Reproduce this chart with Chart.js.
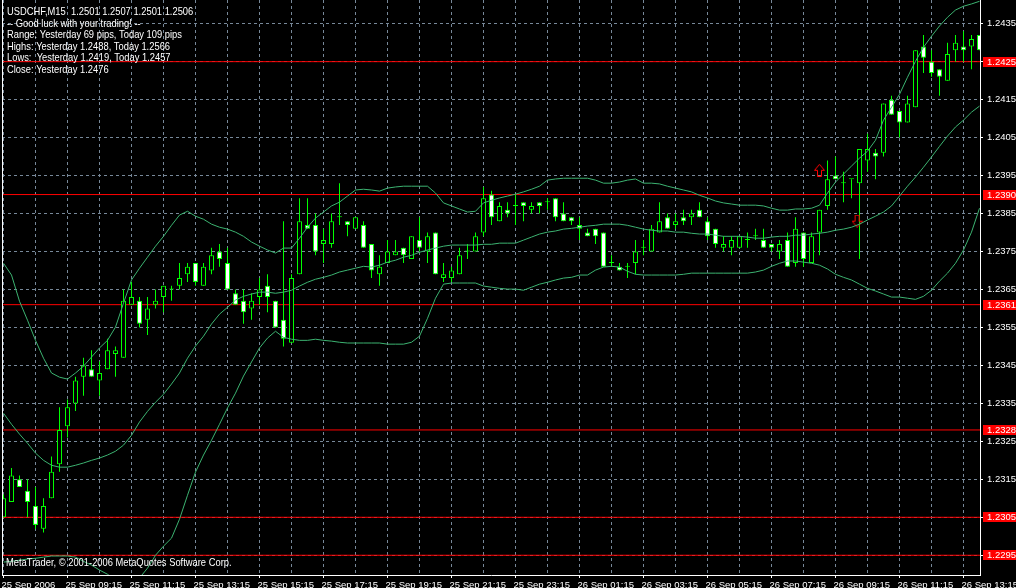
<!DOCTYPE html>
<html>
<head>
<meta charset="utf-8">
<title>USDCHF,M15</title>
<script src="https://cdn.jsdelivr.net/npm/chart.js"></script>
<style>
    html, body { margin: 0; padding: 0; background: #000; overflow: hidden; }
    #wrap { width: 1016px; height: 588px; }
</style>
</head>
<body>
<div id="wrap"><canvas id="chart" width="1016" height="588"></canvas></div>
<script>
// USDCHF M15, one value per bar, 25 Sep 07:15 -> 26 Sep 13:45
const opens = [
    1.2305, 1.2309, 1.2315, 1.2312, 1.2308, 1.2302, 1.2310, 1.2319, 1.2329, 1.2335,
    1.2342, 1.2344, 1.2341, 1.2344, 1.2348, 1.2347, 1.2361, 1.2362, 1.2357, 1.2361,
    1.2363, 1.2365, 1.2366, 1.2369, 1.2372, 1.2366, 1.2370, 1.2375, 1.2372, 1.2364,
    1.2362, 1.2360, 1.2363, 1.2366, 1.2362, 1.2357, 1.2351, 1.2369, 1.2382, 1.2382,
    1.2377, 1.2377, 1.2384, 1.2383, 1.2381, 1.2382, 1.2377, 1.2369, 1.2372, 1.2374,
    1.2376, 1.2373, 1.2378, 1.2375, 1.2380, 1.2368, 1.2368, 1.2369, 1.2375, 1.2375,
    1.2380, 1.2390, 1.2383, 1.2386, 1.2387, 1.2388, 1.2386, 1.2388, 1.2388, 1.2389,
    1.2385, 1.2384, 1.2382, 1.2380, 1.2381, 1.2380, 1.2372, 1.2371, 1.2371, 1.2372,
    1.2376, 1.2375, 1.2380, 1.2384, 1.2382, 1.2384, 1.2384, 1.2386, 1.2383, 1.2381,
    1.2376, 1.2376, 1.2376, 1.2378, 1.2379, 1.2378, 1.2377, 1.2375, 1.2378, 1.2372,
    1.2380, 1.2372, 1.2380, 1.2387, 1.2395, 1.2393, 1.2394, 1.2393, 1.2399, 1.2401,
    1.2401, 1.2415, 1.2412, 1.2409, 1.2413, 1.2429, 1.2425, 1.2423, 1.2420, 1.2428,
    1.2429, 1.2429, 1.2432
];
const highs = [
    1.2311, 1.2318, 1.2316, 1.2315, 1.2313, 1.2310, 1.2321, 1.2334, 1.2336, 1.2342,
    1.2347, 1.2349, 1.2346, 1.2352, 1.2350, 1.2365, 1.2367, 1.2363, 1.2363, 1.2365,
    1.2366, 1.2366, 1.2372, 1.2372, 1.2372, 1.2372, 1.2376, 1.2377, 1.2376, 1.2365,
    1.2365, 1.2364, 1.2368, 1.2369, 1.2362, 1.2383, 1.2369, 1.2389, 1.2389, 1.2385,
    1.2381, 1.2385, 1.2393, 1.2383, 1.2384, 1.2383, 1.2377, 1.2374, 1.2378, 1.2378,
    1.2376, 1.2379, 1.2384, 1.2380, 1.2380, 1.2372, 1.2371, 1.2376, 1.2377, 1.2380,
    1.2392, 1.2391, 1.2388, 1.2388, 1.2390, 1.2388, 1.2388, 1.2388, 1.2389, 1.2389,
    1.2388, 1.2384, 1.2384, 1.2381, 1.2381, 1.2380, 1.2374, 1.2372, 1.2372, 1.2378,
    1.2378, 1.2382, 1.2388, 1.2385, 1.2385, 1.2386, 1.2386, 1.2388, 1.2384, 1.2381,
    1.2379, 1.2379, 1.2379, 1.2380, 1.2381, 1.2381, 1.2377, 1.2378, 1.2380, 1.2384,
    1.2380, 1.2380, 1.2386, 1.2399, 1.2400, 1.2396, 1.2394, 1.2402, 1.2406, 1.2402,
    1.2414, 1.2416, 1.2412, 1.2416, 1.2428, 1.2432, 1.2428, 1.2423, 1.2430, 1.2432,
    1.2433, 1.2432, 1.2432
];
const lows = [
    1.2305, 1.2309, 1.2313, 1.2305, 1.2302, 1.2301, 1.2310, 1.2317, 1.2326, 1.2333,
    1.2337, 1.2342, 1.2337, 1.2344, 1.2342, 1.2347, 1.2361, 1.2355, 1.2353, 1.2360,
    1.2359, 1.2362, 1.2365, 1.2367, 1.2366, 1.2366, 1.2369, 1.2371, 1.2365, 1.2361,
    1.2356, 1.2357, 1.2361, 1.2359, 1.2355, 1.2350, 1.2351, 1.2369, 1.2381, 1.2374,
    1.2372, 1.2376, 1.2382, 1.2379, 1.2381, 1.2376, 1.2368, 1.2366, 1.2372, 1.2374,
    1.2372, 1.2373, 1.2375, 1.2372, 1.2369, 1.2367, 1.2367, 1.2369, 1.2373, 1.2375,
    1.2379, 1.2382, 1.2383, 1.2384, 1.2382, 1.2383, 1.2385, 1.2385, 1.2386, 1.2383,
    1.2383, 1.2382, 1.2378, 1.2379, 1.2377, 1.2371, 1.2371, 1.2370, 1.2368, 1.2369,
    1.2374, 1.2375, 1.2380, 1.2381, 1.2381, 1.2382, 1.2382, 1.2384, 1.2378, 1.2376,
    1.2375, 1.2374, 1.2376, 1.2376, 1.2378, 1.2376, 1.2375, 1.2373, 1.2371, 1.2371,
    1.2371, 1.2372, 1.2374, 1.2386, 1.2394, 1.2388, 1.2389, 1.2373, 1.2396, 1.2394,
    1.2400, 1.2411, 1.2405, 1.2409, 1.2413, 1.2422, 1.2421, 1.2416, 1.2420, 1.2425,
    1.2425, 1.2423, 1.2428
];
const closes = [
    1.2310, 1.2316, 1.2313, 1.2309, 1.2303, 1.2308, 1.2317, 1.2328, 1.2334, 1.2341,
    1.2345, 1.2342, 1.2343, 1.2349, 1.2349, 1.2362, 1.2363, 1.2356, 1.2360, 1.2362,
    1.2366, 1.2365, 1.2368, 1.2371, 1.2367, 1.2371, 1.2374, 1.2373, 1.2365, 1.2361,
    1.2359, 1.2362, 1.2365, 1.2363, 1.2355, 1.2352, 1.2368, 1.2383, 1.2381, 1.2375,
    1.2378, 1.2383, 1.2384, 1.2382, 1.2384, 1.2376, 1.2370, 1.2371, 1.2375, 1.2375,
    1.2374, 1.2379, 1.2376, 1.2379, 1.2369, 1.2369, 1.2370, 1.2374, 1.2375, 1.2379,
    1.2389, 1.2384, 1.2387, 1.2385, 1.2387, 1.2387, 1.2387, 1.2387, 1.2388, 1.2384,
    1.2383, 1.2383, 1.2381, 1.2379, 1.2379, 1.2371, 1.2372, 1.2370, 1.2371, 1.2375,
    1.2376, 1.2381, 1.2383, 1.2381, 1.2383, 1.2383, 1.2385, 1.2384, 1.2379, 1.2377,
    1.2377, 1.2378, 1.2379, 1.2378, 1.2379, 1.2376, 1.2376, 1.2377, 1.2371, 1.2381,
    1.2373, 1.2379, 1.2386, 1.2394, 1.2394, 1.2393, 1.2394, 1.2402, 1.2402, 1.2400,
    1.2414, 1.2411, 1.2409, 1.2414, 1.2428, 1.2426, 1.2422, 1.2421, 1.2427, 1.2430,
    1.2428, 1.2431, 1.2428
];

// Bollinger Bands (20)
const bbUpper = [
    1.23719, 1.23688, 1.23619, 1.23569, 1.23516, 1.23469, 1.23430, 1.23419, 1.23414, 1.23430,
    1.23448, 1.23472, 1.23496, 1.23516, 1.23551, 1.23614, 1.23675, 1.23706, 1.23735, 1.23764,
    1.23790, 1.23819, 1.23846, 1.23856, 1.23843, 1.23835, 1.23822, 1.23814, 1.23809, 1.23801,
    1.23790, 1.23775, 1.23764, 1.23754, 1.23746, 1.23759, 1.23759, 1.23785, 1.23814, 1.23838,
    1.23854, 1.23870, 1.23880, 1.23896, 1.23912, 1.23914, 1.23912, 1.23909, 1.23917, 1.23920,
    1.23922, 1.23922, 1.23922, 1.23922, 1.23904, 1.23878, 1.23870, 1.23862, 1.23854, 1.23856,
    1.23878, 1.23885, 1.23891, 1.23896, 1.23901, 1.23907, 1.23914, 1.23922, 1.23938, 1.23941,
    1.23943, 1.23943, 1.23943, 1.23943, 1.23938, 1.23930, 1.23930, 1.23933, 1.23938, 1.23941,
    1.23930, 1.23930, 1.23928, 1.23922, 1.23917, 1.23912, 1.23907, 1.23898, 1.23891, 1.23883,
    1.23878, 1.23875, 1.23872, 1.23872, 1.23872, 1.23870, 1.23864, 1.23859, 1.23859, 1.23862,
    1.23862, 1.23864, 1.23872, 1.23904, 1.23933, 1.23954, 1.23975, 1.23996, 1.24014, 1.24043,
    1.24096, 1.24130, 1.24164, 1.24209, 1.24251, 1.24288, 1.24317, 1.24344, 1.24367, 1.24386,
    1.24396, 1.24402, 1.24409
];
const bbMiddle = [
    1.23324, 1.23295, 1.23269, 1.23245, 1.23219, 1.23200, 1.23187, 1.23182, 1.23182, 1.23187,
    1.23193, 1.23200, 1.23206, 1.23214, 1.23224, 1.23240, 1.23266, 1.23301, 1.23329, 1.23353,
    1.23374, 1.23401, 1.23430, 1.23469, 1.23501, 1.23527, 1.23559, 1.23585, 1.23603, 1.23622,
    1.23632, 1.23638, 1.23643, 1.23643, 1.23640, 1.23643, 1.23648, 1.23659, 1.23669, 1.23677,
    1.23682, 1.23688, 1.23696, 1.23701, 1.23706, 1.23711, 1.23709, 1.23714, 1.23722, 1.23727,
    1.23735, 1.23740, 1.23748, 1.23754, 1.23759, 1.23764, 1.23767, 1.23767, 1.23767, 1.23767,
    1.23769, 1.23769, 1.23772, 1.23772, 1.23772, 1.23780, 1.23788, 1.23796, 1.23801, 1.23804,
    1.23809, 1.23811, 1.23814, 1.23817, 1.23819, 1.23822, 1.23822, 1.23822, 1.23819, 1.23814,
    1.23809, 1.23806, 1.23804, 1.23804, 1.23801, 1.23801, 1.23798, 1.23796, 1.23796, 1.23793,
    1.23790, 1.23790, 1.23790, 1.23788, 1.23785, 1.23785, 1.23788, 1.23790, 1.23790, 1.23793,
    1.23793, 1.23796, 1.23798, 1.23801, 1.23806, 1.23809, 1.23814, 1.23822, 1.23833, 1.23843,
    1.23854, 1.23870, 1.23896, 1.23922, 1.23946, 1.23972, 1.23999, 1.24027, 1.24054, 1.24078,
    1.24096, 1.24117, 1.24133
];
const bbLower = [
    1.22932, 1.22934, 1.22937, 1.22940, 1.22942, 1.22945, 1.22948, 1.22948, 1.22948, 1.22945,
    1.22934, 1.22924, 1.22911, 1.22900, 1.22884, 1.22871, 1.22871, 1.22890, 1.22916, 1.22950,
    1.22974, 1.22995, 1.23045, 1.23108, 1.23169, 1.23214, 1.23253, 1.23295, 1.23338, 1.23377,
    1.23422, 1.23459, 1.23496, 1.23522, 1.23540, 1.23524, 1.23519, 1.23516, 1.23516, 1.23519,
    1.23516, 1.23514, 1.23511, 1.23509, 1.23509, 1.23509, 1.23509, 1.23509, 1.23506, 1.23506,
    1.23506, 1.23511, 1.23527, 1.23574, 1.23627, 1.23664, 1.23667, 1.23667, 1.23667, 1.23667,
    1.23659, 1.23656, 1.23653, 1.23651, 1.23651, 1.23648, 1.23656, 1.23664, 1.23669, 1.23675,
    1.23680, 1.23682, 1.23688, 1.23688, 1.23701, 1.23709, 1.23711, 1.23709, 1.23698, 1.23690,
    1.23688, 1.23688, 1.23688, 1.23688, 1.23688, 1.23690, 1.23693, 1.23693, 1.23693, 1.23693,
    1.23693, 1.23693, 1.23693, 1.23693, 1.23696, 1.23701, 1.23711, 1.23719, 1.23725, 1.23725,
    1.23722, 1.23719, 1.23714, 1.23704, 1.23690, 1.23682, 1.23675, 1.23664, 1.23653, 1.23646,
    1.23638, 1.23630, 1.23630, 1.23627, 1.23624, 1.23632, 1.23648, 1.23672, 1.23693, 1.23719,
    1.23754, 1.23801, 1.23864
];

// horizontal lines drawn by the trader
const levels = [1.2425, 1.2390, 1.2361, 1.2328, 1.2305, 1.2295];
const priceTicks = [1.2295, 1.2305, 1.2315, 1.2325, 1.2335, 1.2345, 1.2355, 1.2365,
    1.2375, 1.2385, 1.2395, 1.2405, 1.2415, 1.2425, 1.2435];
// one label every 8 bars
const timeLabels = ['25 Sep 2006', '25 Sep 09:15', '25 Sep 11:15', '25 Sep 13:15', '25 Sep 15:15',
    '25 Sep 17:15', '25 Sep 19:15', '25 Sep 21:15', '25 Sep 23:15', '26 Sep 01:15', '26 Sep 03:15',
    '26 Sep 05:15', '26 Sep 07:15', '26 Sep 09:15', '26 Sep 11:15', '26 Sep 13:15'];
const arrowsUp = [{ x: 102, y: 1.23964 }];
const arrowsDown = [{ x: 106.7, y: 1.23830 }];

const infoLines = [
    'USDCHF,M15  1.2501 1.2507 1.2501 1.2506',
    '-- Good luck with your trading! --',
    'Range: Yesterday 69 pips, Today 109 pips',
    'Highs: Yesterday 1.2488, Today 1.2566',
    'Lows:  Yesterday 1.2419, Today 1.2457',
    'Close: Yesterday 1.2476'
];
const copyright = 'MetaTrader, \u00a9 2001-2006 MetaQuotes Software Corp.';

const GRID = '#778899';
const CANDLE = '#00ff00';
const BAND = '#3cb371';
const RED = '#ff0000';
const FONT = '"Liberation Sans", Arial, sans-serif';

Chart.defaults.font.family = FONT;

// outlined arrow used as point style
function makeArrow(up) {
    const c = document.createElement('canvas');
    c.width = 11; c.height = 13;
    const g = c.getContext('2d');
    g.strokeStyle = RED;
    g.lineWidth = 1;
    const pts = [[5.5, 0.5], [10.5, 6.5], [7.5, 6.5], [7.5, 12.5], [3.5, 12.5], [3.5, 6.5], [0.5, 6.5]];
    g.beginPath();
    pts.forEach(([x, y], k) => {
        const yy = up ? y : 13 - y;
        if (k === 0) g.moveTo(x, yy); else g.lineTo(x, yy);
    });
    g.closePath();
    g.stroke();
    return c;
}

const xy = arr => arr.map((v, i) => ({ x: i, y: v }));
const X_MIN = -0.1875, X_MAX = 122.0625;

// texte, libellés rouges et bord gauche
const overlay = {
    id: 'overlay',
    afterDraw(chart) {
        const { ctx, chartArea, scales: { y } } = chart;
        ctx.save();
        ctx.fillStyle = '#fff';
        ctx.fillRect(chartArea.left, chartArea.top, 1, chartArea.bottom - chartArea.top + 1);

        levels.forEach(l => {
            const py = Math.round(y.getPixelForValue(l));
            ctx.fillStyle = RED;
            ctx.fillRect(983, py - 5, 33, 10);
            ctx.fillStyle = '#fff';
            ctx.font = '9.5px ' + FONT;
            ctx.textBaseline = 'middle';
            ctx.textAlign = 'left';
            ctx.fillText(l.toFixed(4), 987, py + 0.5);
        });

        ctx.font = '11px ' + FONT;
        ctx.textBaseline = 'alphabetic';
        ctx.fillStyle = '#fff';
        const sx = 175 / ctx.measureText(infoLines[2]).width;
        infoLines.forEach((t, k) => {
            ctx.save();
            ctx.translate(7, 15 + 11.5 * k);
            ctx.scale(sx, 1);
            ctx.fillText(t, 0, 0);
            ctx.restore();
        });
        ctx.save();
        ctx.translate(6, 566);
        ctx.scale(sx, 1);
        ctx.fillText(copyright, 0, 0);
        ctx.restore();
        ctx.restore();
    }
};

const bandLine = data => ({
    type: 'line', data: xy(data), borderColor: BAND, borderWidth: 1,
    pointRadius: 0, pointHoverRadius: 0, order: 0
});

new Chart(document.getElementById('chart'), {
    type: 'bar',
    data: {
        datasets: [
            bandLine(bbUpper),
            bandLine(bbMiddle),
            bandLine(bbLower),
            { type: 'scatter', data: arrowsUp, pointStyle: makeArrow(true), pointHoverRadius: 0, order: 0 },
            { type: 'scatter', data: arrowsDown, pointStyle: makeArrow(false), pointHoverRadius: 0, order: 0 },
            {
                type: 'bar',
                data: opens.map((o, i) => ({ x: i, y: [Math.min(o, closes[i]), Math.max(o, closes[i])] })),
                backgroundColor: c => closes[c.dataIndex] > opens[c.dataIndex] ? '#000' : '#fff',
                borderColor: CANDLE,
                borderWidth: 1,
                borderSkipped: false,
                barThickness: 5,
                minBarLength: 1,
                grouped: false,
                inflateAmount: 0,
                order: 1
            },
            {
                type: 'bar',
                data: lows.map((l, i) => ({ x: i, y: [l, highs[i]] })),
                backgroundColor: CANDLE,
                borderWidth: 0,
                barThickness: 1,
                minBarLength: 1,
                grouped: false,
                inflateAmount: 0,
                order: 2
            },
            ...levels.map(l => ({
                type: 'line',
                data: [{ x: X_MIN, y: l }, { x: X_MAX, y: l }],
                borderColor: RED, borderWidth: 1, pointRadius: 0, pointHoverRadius: 0, order: 3
            }))
        ]
    },
    options: {
        responsive: false,
        devicePixelRatio: 1,
        animation: false,
        events: [],
        layout: { autoPadding: false, padding: { left: 2, top: 0, right: 0, bottom: 0 } },
        plugins: { legend: { display: false }, tooltip: { enabled: false } },
        scales: {
            x: {
                type: 'linear',
                min: X_MIN,
                max: X_MAX,
                offset: false,
                afterBuildTicks: s => {
                    s.ticks = [];
                    for (let i = 0; i <= 120; i += 4) s.ticks.push({ value: i });
                },
                afterFit: s => { s.height = 13; s.paddingLeft = 0; s.paddingRight = 0; },
                grid: {
                    offset: false,
                    color: GRID,
                    tickColor: c => (c.tick && c.tick.value % 8 === 0) ? '#fff' : 'rgba(0,0,0,0)',
                    tickLength: 3
                },
                border: { color: '#fff', dash: [3, 3] },
                ticks: {
                    color: '#fff',
                    autoSkip: false,
                    maxRotation: 0,
                    align: 'start',
                    padding: 2,
                    labelOffset: -2,
                    font: { size: 9.5 },
                    callback: v => v % 8 === 0 ? timeLabels[v / 8] : ''
                }
            },
            y: {
                position: 'right',
                min: 1.22898,
                max: 1.244124,
                afterBuildTicks: s => { s.ticks = priceTicks.map(v => ({ value: v })); },
                afterFit: s => { s.width = 36; s.paddingTop = 0; s.paddingBottom = 0; },
                grid: { color: GRID, tickColor: '#fff', tickLength: 3 },
                border: { color: '#fff', dash: [3, 3] },
                ticks: {
                    color: '#fff',
                    padding: 4,
                    font: { size: 9.5 },
                    callback: v => Number(v).toFixed(4)
                }
            }
        }
    },
    plugins: [overlay]
});
</script>
</body>
</html>
